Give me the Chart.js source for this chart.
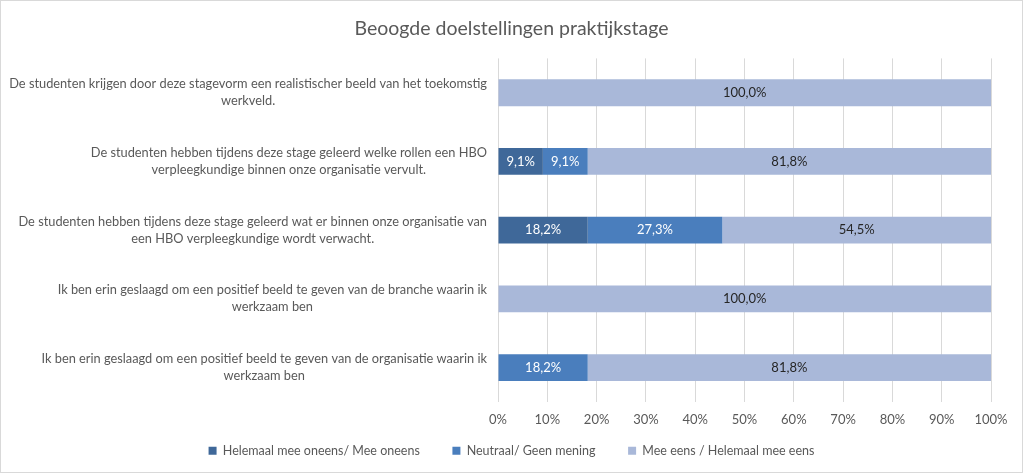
<!DOCTYPE html>
<html>
<head>
<meta charset="utf-8">
<script src="https://cdn.jsdelivr.net/npm/chart.js@4.4.1/dist/chart.umd.min.js"></script>
<style>
  body { margin: 0; background: #fff; }
  #wrap { width: 1023px; height: 473px; box-sizing: border-box; border: 1px solid #d9d9d9; }
</style>
</head>
<body>
<div id="wrap"><canvas id="myChart" width="1021" height="471"></canvas></div>
<script>
// Stellingen (categorieen), elk als array van regels
var categories = [
    ['De studenten krijgen door deze stagevorm een realistischer beeld van het toekomstig', 'werkveld.'],
    ['De studenten hebben tijdens deze stage geleerd welke rollen een HBO', 'verpleegkundige binnen onze organisatie vervult.'],
    ['De studenten hebben tijdens deze stage geleerd wat er binnen onze organisatie van', 'een HBO verpleegkundige wordt verwacht.'],
    ['Ik ben erin geslaagd om een positief beeld te geven van de branche waarin ik', 'werkzaam ben'],
    ['Ik ben erin geslaagd om een positief beeld te geven van de organisatie waarin ik', 'werkzaam ben']
];
var seriesNames = ['Helemaal mee oneens/ Mee oneens', 'Neutraal/ Geen mening', 'Mee eens / Helemaal mee eens'];
var oneens = [0, 9.1, 18.2, 0, 0];
var neutraal = [0, 9.1, 27.3, 0, 18.2];
var eens = [100, 81.8, 54.5, 100, 81.8];
var tickLabels = ['0%', '10%', '20%', '30%', '40%', '50%', '60%', '70%', '80%', '90%', '100%'];

var kleuren = ['#3F6899', '#4A7EBD', '#A9B8D9'];
var labelKleuren = ['#ffffff', '#ffffff', '#262626'];
var fontFamily = 'Lato, "Open Sans", sans-serif';

// Labels op de y-as: blok rechts uitgelijnd, regels gecentreerd
var yLabelPlugin = {
    id: 'yLabels',
    afterDraw: function (chart) {
        var ctx = chart.ctx;
        var yScale = chart.scales.y;
        var rechts = chart.chartArea.left - 11;
        ctx.save();
        ctx.font = '12.8px ' + fontFamily;
        ctx.fillStyle = '#595959';
        ctx.textAlign = 'center';
        ctx.textBaseline = 'middle';
        var lh = 17;
        categories.forEach(function (regels, i) {
            var breedte = 0;
            regels.forEach(function (r) { breedte = Math.max(breedte, ctx.measureText(r).width); });
            var cx = rechts - breedte / 2;
            var cy = yScale.getPixelForValue(i);
            var start = cy - (regels.length - 1) * lh / 2;
            regels.forEach(function (r, j) { ctx.fillText(r, cx, start + j * lh); });
        });
        ctx.restore();
    }
};

// Percentages in de balken
var waardePlugin = {
    id: 'waarden',
    afterDatasetsDraw: function (chart) {
        var ctx = chart.ctx;
        ctx.save();
        ctx.font = '13px ' + fontFamily;
        ctx.textAlign = 'center';
        ctx.textBaseline = 'middle';
        chart.data.datasets.forEach(function (ds, di) {
            var meta = chart.getDatasetMeta(di);
            meta.data.forEach(function (bar, i) {
                var v = ds.data[i];
                if (!v) return;
                var midden = (bar.x + bar.base) / 2;
                ctx.fillStyle = labelKleuren[di];
                ctx.fillText(v.toFixed(1).replace('.', ',') + '%', midden, bar.y);
            });
        });
        ctx.restore();
    }
};

var ctx = document.getElementById('myChart').getContext('2d');
var myChart = new Chart(ctx, {
    type: 'bar',
    data: {
        labels: categories,
        datasets: [
            { label: seriesNames[0], data: oneens, backgroundColor: kleuren[0] },
            { label: seriesNames[1], data: neutraal, backgroundColor: kleuren[1] },
            { label: seriesNames[2], data: eens, backgroundColor: kleuren[2] }
        ]
    },
    options: {
        indexAxis: 'y',
        responsive: false,
        animation: false,
        layout: { padding: { left: 0, right: 0, top: 0, bottom: 5 } },
        barPercentage: 0.78,
        categoryPercentage: 0.5,
        scales: {
            x: {
                stacked: true,
                min: 0,
                max: 100,
                border: { display: false },
                grid: { color: '#d9d9d9', drawTicks: false },
                ticks: {
                    stepSize: 10,
                    padding: 10,
                    color: '#595959',
                    font: { family: fontFamily, size: 13 },
                    callback: function (v, i) { return tickLabels[i]; }
                }
            },
            y: {
                stacked: true,
                border: { display: false },
                grid: { display: false },
                ticks: { display: false },
                afterFit: function (scale) { scale.width = 497; }
            },
            // lege as rechts om ruimte te houden zonder titel/legenda te verschuiven
            y2: {
                position: 'right',
                type: 'category',
                labels: [''],
                border: { display: false },
                grid: { display: false },
                ticks: { display: false },
                afterFit: function (scale) { scale.width = 31; }
            }
        },
        plugins: {
            title: {
                display: true,
                text: 'Beoogde doelstellingen praktijkstage',
                color: '#595959',
                font: { family: fontFamily, size: 19.5, weight: 'normal' },
                padding: { top: 16, bottom: 18 }
            },
            legend: {
                position: 'bottom',
                labels: {
                    color: '#595959',
                    font: { family: fontFamily, size: 12.5 },
                    boxWidth: 8,
                    boxHeight: 8,
                    padding: 7,
                    generateLabels: function (chart) {
                        var items = Chart.defaults.plugins.legend.labels.generateLabels(chart);
                        items.forEach(function (it, i) {
                            if (i < items.length - 1) it.text = it.text + '        ';
                        });
                        return items;
                    }
                }
            },
            tooltip: { enabled: false }
        }
    },
    plugins: [yLabelPlugin, waardePlugin]
});
</script>
</body>
</html>
